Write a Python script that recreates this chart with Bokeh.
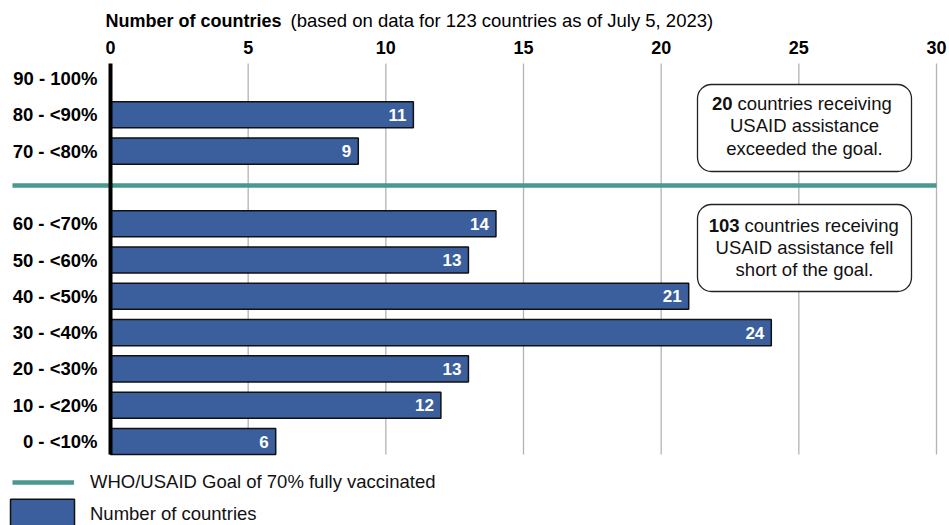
from bokeh.plotting import figure
from bokeh.models import (ColumnDataSource, FixedTicker, BoxAnnotation, Label,
                          Legend, LegendItem)
from bokeh.core.properties import value
from bokeh.embed import file_html
from bokeh.resources import INLINE

# ---------------- data ----------------
categories = ["0 - <10%", "10 - <20%", "20 - <30%", "30 - <40%", "40 - <50%",
              "50 - <60%", "60 - <70%", "70 - <80%", "80 - <90%", "90 - 100%"]
counts = [6, 12, 13, 24, 21, 13, 14, 9, 11, 0]
x_ticks = [0, 5, 10, 15, 20, 25, 30]
goal_label = "WHO/USAID Goal of 70% fully vaccinated"
bar_label = "Number of countries"
title_bold = "Number of countries"
title_rest = "(based on data for 123 countries as of July 5, 2023)"
above_goal = 20
below_goal = 103

FONT = "Liberation Sans"
BLUE = "#3A5F9C"
TEAL = "#48998F"
W, H = 949, 525
FS = "18.5px"

# slot positions: one empty slot between 60-<70% and 70-<80% for the goal line
slots = [i + (1 if i >= 7 else 0) for i in range(len(categories))]
goal_y = 7.05

src = ColumnDataSource(dict(y=slots, right=counts, cat=categories,
                            lab=[str(c) if c > 0 else "" for c in counts]))

# ---------------- scales (pixel helpers for layout only) ----------------
px_per_unit = (936 - 110) / 30.0
py_per_unit = 36.3


def dx(px):
    return (px - 110) / px_per_unit


def dy(py):
    return (441 - py) / py_per_unit


p = figure(width=W, height=H, output_backend="svg", toolbar_location=None,
           x_axis_location="above", y_axis_location=None,
           x_range=(dx(0), dx(W)), y_range=(dy(H), dy(0)),
           min_border_left=0, min_border_right=0, min_border_top=0, min_border_bottom=0)
p.outline_line_color = None
p.background_fill_color = "white"
p.border_fill_color = "white"
p.xgrid.grid_line_color = None
p.ygrid.grid_line_color = None

plot_top = dy(63)
plot_bottom = dy(454)

ax = p.xaxis[0]
ax.fixed_location = plot_top
ax.ticker = FixedTicker(ticks=x_ticks)
ax.axis_line_color = None
ax.major_tick_line_color = None
ax.minor_tick_line_color = None
ax.major_tick_out = 0
ax.major_tick_in = 0
ax.major_label_standoff = 10
ax.major_label_text_font = FONT
ax.major_label_text_font_style = "bold"
ax.major_label_text_font_size = "18px"
ax.major_label_text_color = "black"

# vertical grid lines
grid_x = x_ticks[1:]
p.segment(x0=grid_x, x1=grid_x, y0=[plot_bottom] * len(grid_x), y1=[plot_top] * len(grid_x),
          line_color="#B3B3B3", line_width=1.3)

# goal line (extends into the label area)
goal_r = p.segment(x0=[dx(12)], x1=[30], y0=[goal_y], y1=[goal_y],
                   line_color=TEAL, line_width=4.5)

# bars
bars = p.hbar(y="y", left=0, right="right", height=0.72, source=src,
              fill_color=BLUE, line_color="#111111", line_width=1.5)

# zero line
p.segment(x0=[0], x1=[0], y0=[plot_bottom], y1=[plot_top], line_color="black", line_width=4)

# value labels
p.text(x="right", y="y", text="lab", source=src, text_align="right", text_baseline="middle",
       x_offset=-7, text_color="white", text_font=value(FONT), text_font_style="bold",
       text_font_size="17px")

# category labels
p.text(x=0, y="y", text="cat", source=src, text_align="right", text_baseline="middle",
       x_offset=-13, text_color="black", text_font=value(FONT), text_font_style="bold",
       text_font_size=FS)

# title (mixed bold)
p.add_layout(Label(x=105, y=H - 20, x_units="screen", y_units="screen",
                   text=title_bold, text_font=FONT, text_font_style="bold",
                   text_font_size="18px", text_baseline="middle", text_color="black"))
p.add_layout(Label(x=290, y=H - 20, x_units="screen", y_units="screen",
                   text=title_rest, text_font=FONT,
                   text_font_size=FS, text_baseline="middle", text_color="black"))

# annotation boxes
for top, bottom in [(84, 171), (204, 291)]:
    p.add_layout(BoxAnnotation(left=dx(697), right=dx(911), top=dy(top), bottom=dy(bottom),
                               fill_color="white", fill_alpha=1, line_color="#222222",
                               line_alpha=1, line_width=1.3, border_radius=14,
                               level="annotation"))


def boxtext(x, y, t, style="normal", align="center", xoff=0):
    p.text(x=[x], y=[y], text=[t], text_align=align, text_baseline="middle",
           x_offset=xoff, text_font=value(FONT), text_font_style=style,
           text_font_size=FS, text_color="#111111", level="overlay")


cx = dx(804)
# box 1
boxtext(dx(732), dy(103), str(above_goal), "bold", "right")
boxtext(dx(732), dy(103), "countries receiving", "normal", "left", 5)
boxtext(cx, dy(125), "USAID assistance")
boxtext(cx, dy(148), "exceeded the goal.")
# box 2
boxtext(dx(739), dy(225), str(below_goal), "bold", "right")
boxtext(dx(739), dy(225), "countries receiving", "normal", "left", 5)
boxtext(cx, dy(247), "USAID assistance fell")
boxtext(cx, dy(269), "short of the goal.")

# legends (inside the full-canvas frame)
leg1 = Legend(items=[LegendItem(label=goal_label, renderers=[goal_r])],
              location=(12, H - 495), glyph_width=62, glyph_height=26,
              label_standoff=16, padding=0, margin=0, border_line_color=None,
              background_fill_alpha=0, label_text_font=FONT, label_text_font_size=FS,
              label_text_color="#111111", label_height=26)
leg2 = Legend(items=[LegendItem(label=bar_label, renderers=[bars])],
              location=(2, H - 533), glyph_width=80, glyph_height=38,
              label_standoff=8, padding=0, margin=0, border_line_color=None,
              background_fill_alpha=0, label_text_font=FONT, label_text_font_size=FS,
              label_text_color="#111111", label_height=38)
p.add_layout(leg1, "center")
p.add_layout(leg2, "center")

open("out.html", "w").write(file_html(p, INLINE))
